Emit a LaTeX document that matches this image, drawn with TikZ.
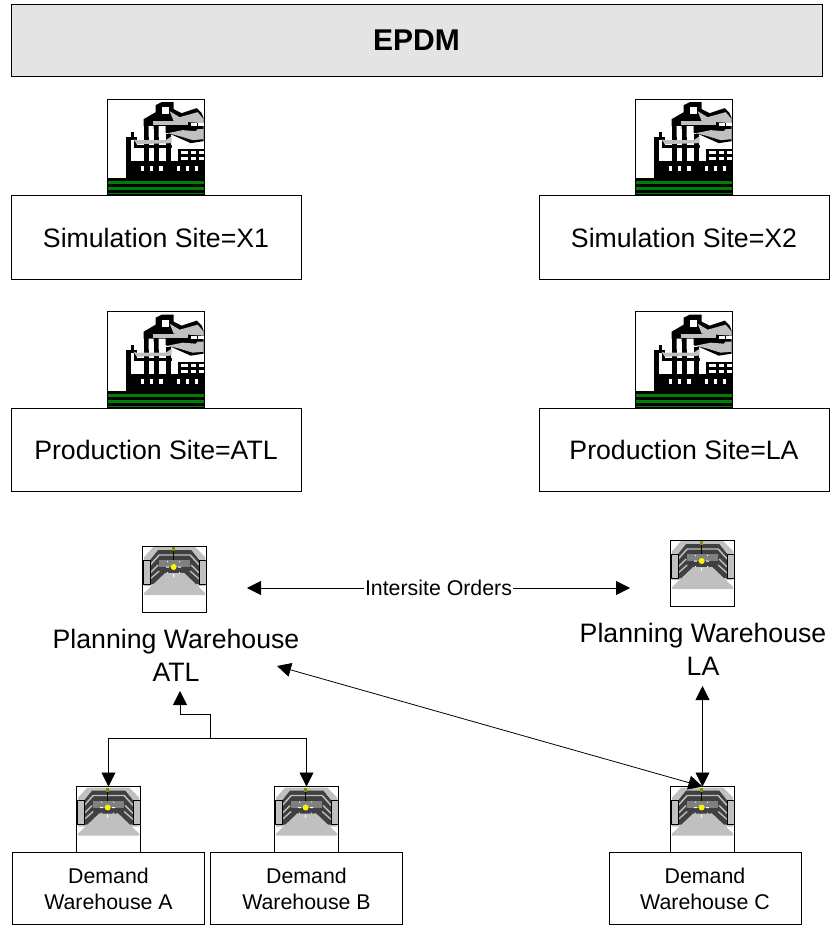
\documentclass[tikz,border=0pt]{standalone}
\usepackage{fontspec}
\setmainfont{Liberation Sans}
\usetikzlibrary{positioning,arrows.meta}

\definecolor{iconGray}{HTML}{C0C0C0}
\definecolor{iconDark}{HTML}{808080}
\definecolor{iconGreen}{HTML}{008000}
\definecolor{headGray}{HTML}{E4E4E4}

\tikzset{
	factory/.pic={
		\fill[iconGreen] (0,79) rectangle (96,96);
		\foreach \x/\y/\w/\h in {0/79/96/3, 0/85/96/3, 0/91/96/3, 0/95/96/1,
			18/38/5/41, 23/33/3/8, 36/22/5/40, 46/22/5/40, 58/35/5/27,
			18/62/78/17, 70/50/26/12, 26/46/38/3, 26/38/3/8}
			\fill[black] (\x,\y) rectangle ++(\w,\h);
		\fill[black] (48,13) -- (48,6) -- (54,3) -- (66,3) -- (66,10) -- (74,14)
			-- (89,9) -- (94,14) -- (96,19) -- (96,42) -- (83,44) -- (63,35) -- (36,27) -- (36,20) -- cycle;
		\fill[white] (54,8) rectangle (61,15);
		\fill[iconGray] (62,12) -- (72,18) -- (90,13) -- (96,20) -- (96,24) -- (66,22) -- cycle;
		\fill[iconGray] (45,22) -- (80,22) -- (80,26) -- (45,26) -- cycle;
		\fill[white] (41,27) rectangle (46,38) (51,27) rectangle (58,38);
		\fill[iconGray] (60,34) -- (75,31) -- (88,32) -- (90,30) -- (96,30) -- (96,40) -- (85,41) -- (72,37) -- cycle;
		\fill[iconGray] (26,40) -- (29,41) -- (58,41) -- (64,37) -- (64,44) -- (29,45) -- cycle;
		\foreach \x/\y/\w/\h in {83/24/6/3, 90/24/6/3, 73/52/7/3, 83/52/5/3, 91/52/5/3,
			73/58/7/3, 83/58/5/3, 91/58/5/3, 33/67/3/5, 42/67/3/5, 51/67/4/5,
			69/67/3/5, 78/67/3/5, 87/67/3/5}
			\fill[white] (\x,\y) rectangle ++(\w,\h);
	},
	warehouse/.pic={
		\fill[iconGray] (2,11) -- (11,1) -- (53,1) -- (63,11) -- (63,40) -- (2,40) -- cycle;
		\fill[black!75] (8,14) -- (16,4) -- (49,4) -- (57,14) -- (57,38) -- (8,38) -- cycle;
		\draw[iconGray,line width=1.1pt] (8,19) -- (17,9) -- (48,9) -- (57,19);
		\draw[iconGray,line width=1pt] (8,27) -- (16,19) (57,27) -- (49,19);
		\draw[iconGray,line width=1pt] (8,33) -- (17,25) (57,33) -- (48,25);
		\fill[iconDark] (17,14) rectangle (48,21);
		\fill[iconGray,draw=black,line width=.6pt] (1,14) rectangle (8,38);
		\fill[iconGray,draw=black,line width=.6pt] (57,14) rectangle (64,38);
		\draw[white,line width=.5pt] (8,45) -- (24,27) (57,45) -- (41,27);
		\fill[iconGray] (2,47) -- (23,27) -- (42,27) -- (63,47) -- (63,49) -- (2,49) -- cycle;
		\draw[black,line width=.7pt] (31.5,3) -- (31.5,14);
		\fill[olive] (30,1) rectangle (33,5);
		\fill[white] (24,20.5) rectangle (27,21.5) (36,20.5) rectangle (39,21.5)
			(31,28) rectangle (32,31) (25,15) rectangle (26,16) (37,15) rectangle (38,16)
			(25,26) rectangle (26,27) (37,26) rectangle (38,27);
		\fill[yellow] (31.5,21) circle (3);
	},
	box/.style={draw, line width=.7pt, inner sep=0pt, outer sep=0pt},
	sitebox/.style={box, minimum width=217.5pt, minimum height=62.5pt, font=\fontsize{20}{24}\selectfont},
	demandbox/.style={box, minimum width=144pt, minimum height=54pt, align=center, font=\fontsize{16}{19.5}\selectfont},
	planning/.style={align=center, inner sep=0pt, font=\fontsize{20}{25}\selectfont},
	factorybox/.style={box, minimum width=72.5pt, minimum height=72.5pt},
	housebox/.style={box, minimum width=48.5pt, minimum height=49.5pt},
	link/.style={line width=.6pt, >={Triangle[length=10.5pt,width=10.5pt]}}
}

\begin{document}
\begin{tikzpicture}[x=.75pt, y=-.75pt]
\useasboundingbox (0,0) rectangle (829,927);

\node[box, fill=headGray, minimum width=608.25pt, minimum height=54pt, font=\fontsize{22.5}{26}\selectfont\bfseries] (epdm) at (416.5,40) {EPDM};

\node[sitebox] (simX1) at (156,237.5) {Simulation Site=X1};
\node[sitebox] (simX2) at (684,237.5) {Simulation Site=X2};
\node[sitebox] (prodATL) at (156,450) {Production Site=ATL};
\node[sitebox] (prodLA) at (684,450) {Production Site=LA};

\node[factorybox, above=0pt of simX1] (facX1) {};
\node[factorybox, above=0pt of simX2] (facX2) {};
\node[factorybox, above=0pt of prodATL] (facATL) {};
\node[factorybox, above=0pt of prodLA] (facLA) {};
\foreach \f in {facX1,facX2,facATL,facLA}
	\pic at (\f.north west) {factory};

\node[housebox] (whATL) at (174.5,579) {};
\node[housebox] (whLA) at (702.5,573) {};
\node[planning] (plnATL) at (176,655) {Planning Warehouse\\ATL};
\node[planning] (plnLA) at (703,649) {Planning Warehouse\\LA};

\node[demandbox] (demA) at (108.5,888.5) {Demand\\Warehouse A};
\node[demandbox] (demB) at (306.5,888.5) {Demand\\Warehouse B};
\node[demandbox] (demC) at (705,888.5) {Demand\\Warehouse C};
\node[housebox, above=0pt of demA] (whA) {};
\node[housebox, above=0pt of demB] (whB) {};
\node[housebox, above=0pt of demC, xshift=-1.9pt] (whC) {};
\foreach \w in {whATL,whLA,whA,whB,whC}
	\pic at (\w.north west) {warehouse};

\coordinate (intL) at (247,588);
\coordinate (intR) at (630,588);
\coordinate (tipATL) at (180,691);
\coordinate (tipDiag) at (277,666);
\coordinate (tipLA) at (702.5,686);
\coordinate (bus) at (210,738);

\draw[link,<->] (intL) -- node[fill=white, inner sep=1pt, font=\fontsize{16}{19}\selectfont] (intersite) {Intersite Orders} (intR);
\draw[link,->] (bus) -- ++(0,-24) -| (tipATL);
\draw[link,->] (bus) -| (whA.north);
\draw[link,->] (bus) -| (whB.north);
\draw[link,<->] (tipDiag) -- (whC.north);
\draw[link,<->] (tipLA) -- (whC.north);
\end{tikzpicture}
\end{document}
